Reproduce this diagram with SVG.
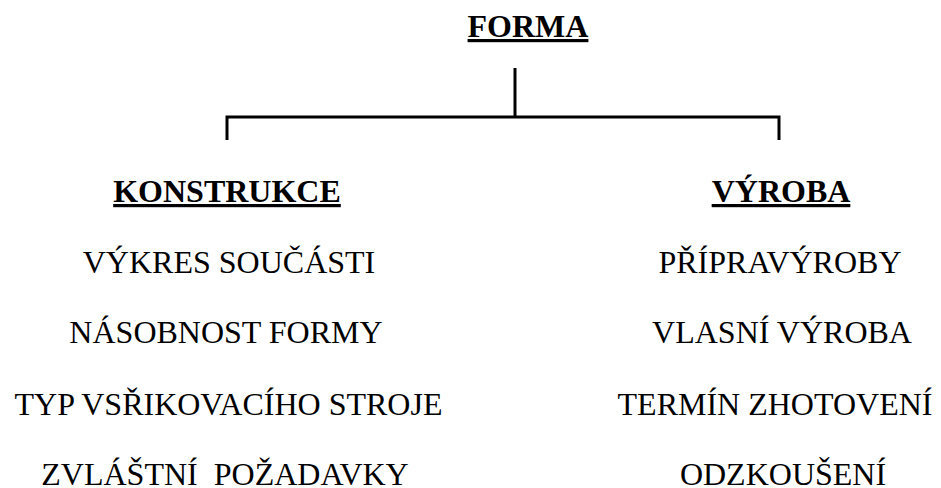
<svg xmlns="http://www.w3.org/2000/svg" width="941" height="488" viewBox="0 0 941 488">
<style>
text { font-family: "Liberation Serif", Tinos, "Times New Roman", Times, "DejaVu Serif", serif; font-size: 32px; fill: #000; text-anchor: middle; }
.h { font-weight: bold; text-decoration: underline; }
.c { fill: none; stroke: #000; stroke-width: 3; stroke-linecap: butt; }
</style>
<rect width="941" height="488" fill="#fff"/>
<g id="connectors">
<path class="c" d="M515 68 V117"/>
<path class="c" d="M227 140 V117 H779 V140"/>
</g>
<g id="forma"><text class="h" x="528" y="37">FORMA</text></g>
<g id="konstrukce">
<text class="h" x="227" y="202">KONSTRUKCE</text>
<text x="229" y="273">VÝKRES SOUČÁSTI</text>
<text x="226" y="343">NÁSOBNOST FORMY</text>
<text x="228.5" y="415">TYP VSŘIKOVACÍHO STROJE</text>
<text x="225" y="485" xml:space="preserve">ZVLÁŠTNÍ  POŽADAVKY</text>
</g>
<g id="vyroba">
<text class="h" x="781" y="202">VÝROBA</text>
<text x="780" y="273">PŘÍPRAVÝROBY</text>
<text x="782" y="343">VLASNÍ VÝROBA</text>
<text x="775" y="415">TERMÍN ZHOTOVENÍ</text>
<text x="783" y="485">ODZKOUŠENÍ</text>
</g>
</svg>
